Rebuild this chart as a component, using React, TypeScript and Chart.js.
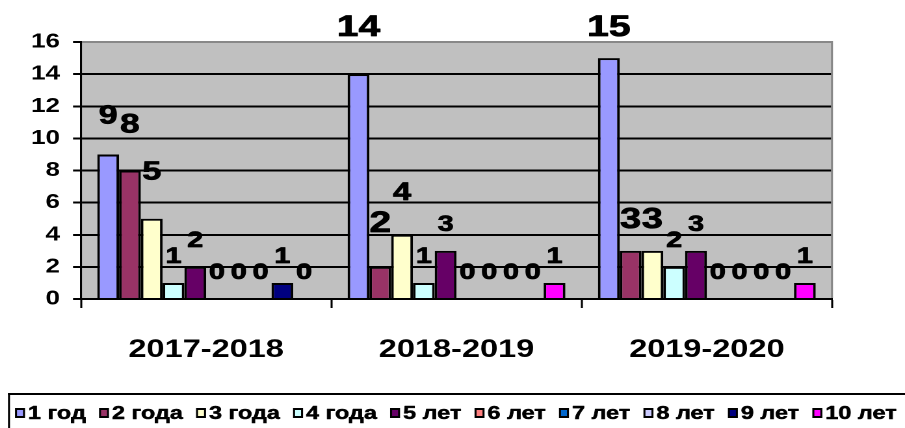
import React, { useEffect, useRef } from "react";
import { Chart, registerables } from "chart.js";

Chart.register(...registerables);

// ---------- data ----------
const categories = ["2017-2018", "2018-2019", "2019-2020"];
const seriesNames = ["1 год", "2 года", "3 года", "4 года", "5 лет", "6 лет", "7 лет", "8 лет", "9 лет", "10 лет"];
const god1 = [9, 14, 15];
const goda2 = [8, 2, 3];
const goda3 = [5, 4, 3];
const goda4 = [1, 1, 2];
const let5 = [2, 3, 3];
const let6 = [0, 0, 0];
const let7 = [0, 0, 0];
const let8 = [0, 0, 0];
const let9 = [1, 0, 0];
const let10 = [0, 1, 1];
const seriesValues = [god1, goda2, goda3, goda4, let5, let6, let7, let8, let9, let10];
const yMin = 0;
const yMax = 16;
const yStep = 2;

// ---------- style ----------
const colors = ["#9999FF", "#993366", "#FFFFCC", "#CCFFFF", "#660066", "#FF8080", "#0066CC", "#CCCCFF", "#000080", "#FF00FF"];
const FONT = '"Liberation Sans", Arial, sans-serif';
// per-label styling (distance above bar top, font size) for the big labels
const labelLift = [[31, 38, 22], [38, 35, 23], [39, 35, 23]];
const labelSize = [[26, 30, 30], [27, 30, 29], [26, 25, 29]];
const smallLift = 20;
const smallSize = 22;

// horizontal stretch of the whole picture
const S_TARGET = 1.3;
const H = 428;
const W = Math.round(905 / S_TARGET);
const S = 905 / W;
const ux = (px: number) => px / S;

const PLOT_L = 81, PLOT_R = 832, PLOT_T = 42, PLOT_B = 299;

function boldText(ctx: CanvasRenderingContext2D, text: string, x: number, y: number, w: number) {
  ctx.lineWidth = w;
  ctx.strokeStyle = "#000";
  ctx.lineJoin = "round";
  ctx.strokeText(text, x, y);
  ctx.fillText(text, x, y);
}

const decorPlugin = {
  id: "decor",
  beforeDraw(chart: any) {
    const { ctx, chartArea: a } = chart;
    ctx.save();
    ctx.fillStyle = "#C0C0C0";
    ctx.fillRect(a.left, a.top, a.right - a.left, a.bottom - a.top);
    ctx.restore();
  },
  afterDatasetsDraw(chart: any) {
    const ctx = chart.ctx;
    ctx.save();
    ctx.fillStyle = "#000";
    ctx.textAlign = "center";
    ctx.textBaseline = "alphabetic";
    chart.data.datasets.forEach((ds: any, i: number) => {
      const meta = chart.getDatasetMeta(i);
      meta.data.forEach((bar: any, j: number) => {
        const size = labelSize[i] ? labelSize[i][j] : smallSize;
        const lift = labelLift[i] ? labelLift[i][j] : smallLift;
        ctx.font = `bold ${size}px ${FONT}`;
        boldText(ctx, String(ds.data[j]), bar.x, bar.y - lift, 0.8);
      });
    });
    ctx.restore();
  },
  afterDraw(chart: any) {
    const { ctx, chartArea: a } = chart;
    ctx.save();
    // right plot border
    ctx.fillStyle = "#888888";
    ctx.fillRect(a.right - ux(1), a.top - 1, ux(2), a.bottom - a.top);
    // legend frame
    ctx.fillStyle = "#000";
    ctx.fillRect(ux(8), 393, W, 2);
    ctx.fillRect(ux(8), 393, ux(2), 60);
    // legend items
    ctx.font = `bold 18px ${FONT}`;
    ctx.textAlign = "left";
    ctx.textBaseline = "alphabetic";
    let x = ux(15);
    const yc = 413;
    chart.data.datasets.forEach((ds: any, i: number) => {
      ctx.fillStyle = "#000";
      ctx.fillRect(x, yc - 5, ux(10), 10);
      ctx.fillStyle = colors[i];
      ctx.fillRect(x + ux(2), yc - 3, ux(6), 6);
      ctx.fillStyle = "#000";
      const tx = x + ux(13);
      boldText(ctx, ds.label, tx, 419, 0.5);
      x = tx + ctx.measureText(ds.label).width + ux(13.2);
    });
    ctx.restore();
  },
};

export default function App() {
  const ref = useRef<HTMLCanvasElement | null>(null);

  useEffect(() => {
    document.body.style.margin = "0";
    const canvas = ref.current;
    if (!canvas) return;
    const chart = new Chart(canvas, {
      type: "bar",
      data: {
        labels: categories,
        datasets: seriesValues.map((vals, i) => ({
          label: seriesNames[i],
          data: vals,
          backgroundColor: colors[i],
          borderColor: "#000",
          borderWidth: (c: any) => (c.raw === 0 ? 0 : 2),
          barPercentage: 1,
          categoryPercentage: 0.87,
        })),
      },
      options: {
        responsive: false,
        animation: false,
        devicePixelRatio: 2,
        layout: { padding: { left: 0, right: W - ux(PLOT_R), top: PLOT_T, bottom: 0 } },
        plugins: { legend: { display: false }, tooltip: { enabled: false } },
        scales: {
          x: {
            grid: { drawOnChartArea: false, drawTicks: true, tickLength: 9, tickColor: "#000", tickWidth: ux(2), offset: true },
            border: { display: true, color: "#000", width: 2 },
            ticks: { color: "#000", font: { family: FONT, size: 25, weight: "bold" }, padding: 27, maxRotation: 0 },
            afterFit: (s: any) => { s.height = H - PLOT_B; },
          },
          y: {
            min: yMin,
            max: yMax,
            ticks: { stepSize: yStep, color: "#000", font: { family: FONT, size: 20, weight: "bold" }, padding: 10 },
            grid: {
              color: (c: any) => (c.tick && c.tick.value === yMax ? "#888888" : "#000"),
              lineWidth: 2,
              tickColor: "#000",
              tickLength: ux(8),
              tickWidth: 2,
            },
            border: { display: true, color: "#000", width: ux(2) },
            afterFit: (s: any) => { s.width = ux(PLOT_L); },
          },
        },
      },
      plugins: [decorPlugin],
    } as any);
    return () => chart.destroy();
  }, []);

  return (
    <div style={{ position: "fixed", left: 0, top: 0, width: W, height: H, transform: `scaleX(${S})`, transformOrigin: "0 0" }}>
      <canvas ref={ref} width={W} height={H} style={{ display: "block" }} />
    </div>
  );
}
